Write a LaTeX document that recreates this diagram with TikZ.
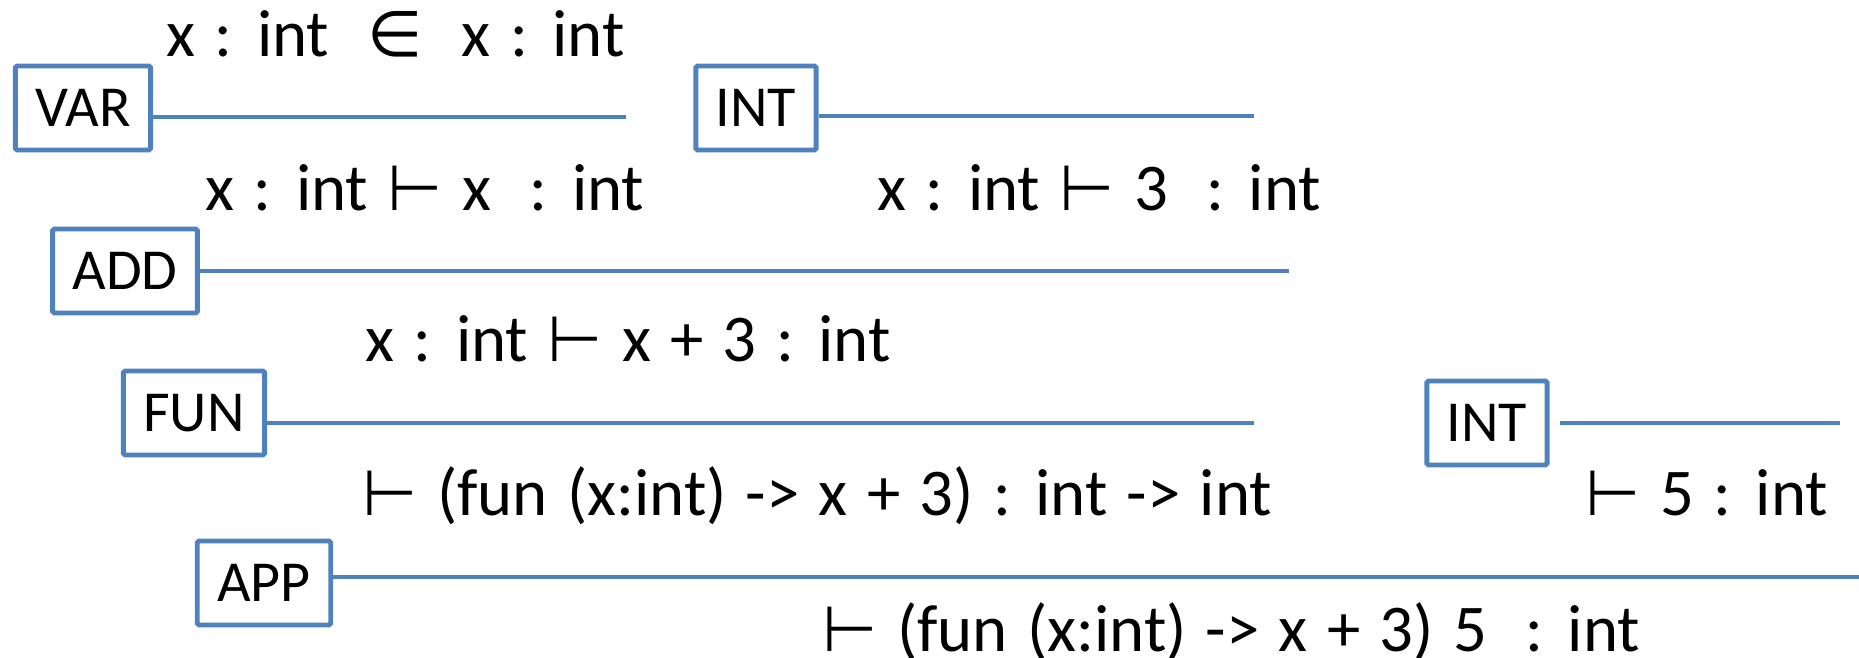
\documentclass[tikz,border=0pt]{standalone}
\usepackage{fontspec}
\setmainfont[WordSpace=1.28]{Carlito}
\newfontfamily\symfont[Scale=0.95]{DejaVu Sans}
\newcommand{\vd}{{\symfont ⊢}}
\newcommand{\inn}{{\symfont ∈}}
\usetikzlibrary{positioning, calc}
\definecolor{rulecol}{HTML}{4F81BD}
\tikzset{
  rulebox/.style={
    rectangle, draw=rulecol, line width=1.4pt, rounded corners=0.5pt,
    minimum height=8.4mm, inner xsep=2mm, align=center,
    font=\fontsize{16.5}{18}\selectfont, text=black
  },
  judg/.style={anchor=base west, inner sep=0pt, font=\fontsize{19}{21}\selectfont},
  rule/.style={draw=rulecol, line width=1.4pt}
}
\begin{document}
\begin{tikzpicture}[x=0.1mm, y=-0.1mm]
\useasboundingbox (0,0) rectangle (1859,658);

% ---------------- Rule boxes ----------------
\node[rulebox] (var) at (83,108) {VAR};
\node[rulebox] (inta) at (756,108) {INT};
\node[rulebox] (add) at (125,271) {ADD};
\node[rulebox] (fun) at (194,413) {FUN};
\node[rulebox] (intb) at (1487,423) {INT};
\node[rulebox] (app) at (264,583) {APP};

% ---------------- Ends of the inference lines ----------------
\coordinate (varend) at (626,117);
\coordinate (intaend) at (1254,116);
\coordinate (addend) at (1289,271);
\coordinate (funend) at (1254,423);
\coordinate (intbend) at (1840,423);
\coordinate (append) at (1859,577);

\draw[rule] (var.east |- varend) -- (varend);
\draw[rule] (inta.east |- intaend) -- (intaend);
\draw[rule] (add.east |- addend) -- (addend);
\draw[rule] (fun.east |- funend) -- (funend);
\draw[rule] ([xshift=1mm]intb.east |- intbend) -- (intbend);
\draw[rule] (app.east |- append) -- (append);

% ---------------- Judgements ----------------
\node[judg] (prem) at (166,57) {x : int \ \inn\ \ x : int};
\node[judg] (jvar) at (205,211) {x : int \vd\ x\ \ : int};
\node[judg] (jthree) at (877,211) {x : int \vd\ 3\ \ : int};
\node[judg] (jadd) at (365,362) {x : int \vd\ x + 3 : int};
\node[judg] (jfun) at (362,516) {\vd\ (fun (x:int) -{}> x + 3) : int -{}> int};
\node[judg] (jfive) at (1585,516) {\vd\ 5 : int};
\node[judg] (japp) at (822,652) {\vd\ (fun (x:int) -{}> x + 3) 5\ \ : int};

\end{tikzpicture}
\end{document}
